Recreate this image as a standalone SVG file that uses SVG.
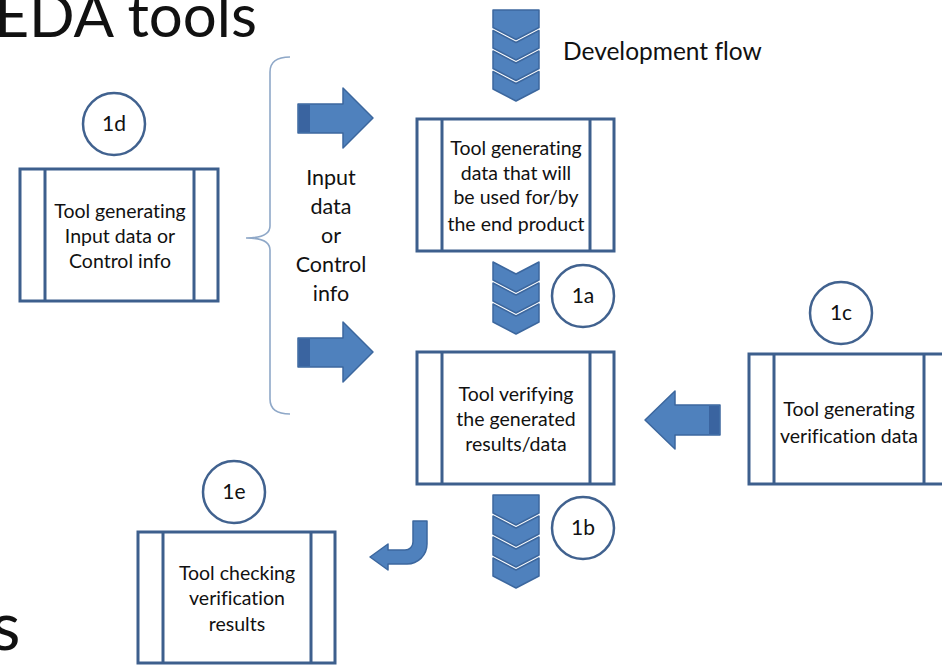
<svg xmlns="http://www.w3.org/2000/svg" width="942" height="665" viewBox="0 0 942 665">
  <style>
    .box { fill: #ffffff; stroke: #3d5f8d; stroke-width: 3; }
    .bar { stroke: #3d5f8d; stroke-width: 3; }
    .tag { fill: #ffffff; stroke: #41628f; stroke-width: 2.5; }
    .blue { fill: #4f81bd; stroke: #3c679e; stroke-width: 1.5; stroke-linejoin: round; }
    .shade { fill: #3a64a0; }
    .brace { fill: none; stroke: #8fa8c8; stroke-width: 1.6; }
    text { font-family: Lato, "Liberation Sans", sans-serif; fill: #111111; font-variant-ligatures: none; font-feature-settings: "liga" 0, "clig" 0; }
    .lbl { font-size: 19.5px; text-anchor: middle; }
    .num { font-size: 21px; text-anchor: middle; }
    .side { font-size: 21.5px; text-anchor: middle; }
  </style>

  <!-- slide title fragments -->
  <text x="257" y="37" font-size="60" text-anchor="end">EDA tools</text>
  <text x="-9" y="650" font-size="68">s</text>

  <!-- flow legend -->
  <g id="legend">
    <path class="blue" d="M493,10 H539 V27.5 L516,39.5 L493,27.5 Z"/>
    <path class="blue" d="M493,30.5 L516,42.5 L539,30.5 V48 L516,60 L493,48 Z"/>
    <path class="blue" d="M493,51 L516,63 L539,51 V68.5 L516,80.5 L493,68.5 Z"/>
    <path class="blue" d="M493,71.5 L516,83.5 L539,71.5 V89 L516,101 L493,89 Z"/>
    <text x="563" y="60" font-size="24.5">Development flow</text>
  </g>

  <!-- 1d: input / control info generator -->
  <g id="node-1d">
    <circle class="tag" cx="114" cy="124" r="31"/>
    <text class="num" x="114" y="131">1d</text>
    <rect class="box" x="20" y="169" width="198" height="132"/>
    <line class="bar" x1="45" y1="169" x2="45" y2="301"/>
    <line class="bar" x1="194" y1="169" x2="194" y2="301"/>
    <text class="lbl" x="120" y="218">Tool generating</text>
    <text class="lbl" x="120" y="243">Input data or</text>
    <text class="lbl" x="120" y="268">Control info</text>
  </g>

  <!-- main product generator -->
  <g id="node-generate">
    <rect class="box" x="417" y="119" width="197" height="132"/>
    <line class="bar" x1="442" y1="119" x2="442" y2="251"/>
    <line class="bar" x1="590" y1="119" x2="590" y2="251"/>
    <text class="lbl" x="516" y="155">Tool generating</text>
    <text class="lbl" x="516" y="180">data that will</text>
    <text class="lbl" x="516" y="204">be used for/by</text>
    <text class="lbl" x="516" y="231">the end product</text>
  </g>

  <!-- 1a label -->
  <g id="tag-1a">
    <circle class="tag" cx="583" cy="296" r="31"/>
    <text class="num" x="583" y="303">1a</text>
  </g>

  <!-- verification tool -->
  <g id="node-verify">
    <rect class="box" x="417" y="352" width="197" height="132"/>
    <line class="bar" x1="442" y1="352" x2="442" y2="484"/>
    <line class="bar" x1="590" y1="352" x2="590" y2="484"/>
    <text class="lbl" x="516" y="401">Tool verifying</text>
    <text class="lbl" x="516" y="426">the generated</text>
    <text class="lbl" x="516" y="451">results/data</text>
  </g>

  <!-- 1b label -->
  <g id="tag-1b">
    <circle class="tag" cx="583" cy="528" r="31"/>
    <text class="num" x="583" y="535">1b</text>
  </g>

  <!-- 1c: verification data generator -->
  <g id="node-1c">
    <circle class="tag" cx="841" cy="313" r="31"/>
    <text class="num" x="841" y="320">1c</text>
    <rect class="box" x="749" y="354" width="198" height="130"/>
    <line class="bar" x1="774" y1="354" x2="774" y2="484"/>
    <line class="bar" x1="924" y1="354" x2="924" y2="484"/>
    <text class="lbl" x="849" y="416">Tool generating</text>
    <text class="lbl" x="849" y="443">verification data</text>
  </g>

  <!-- 1e: result checker -->
  <g id="node-1e">
    <circle class="tag" cx="234" cy="492" r="31"/>
    <text class="num" x="234" y="499">1e</text>
    <rect class="box" x="138" y="532" width="197" height="131"/>
    <line class="bar" x1="163" y1="532" x2="163" y2="663"/>
    <line class="bar" x1="311" y1="532" x2="311" y2="663"/>
    <text class="lbl" x="237" y="580">Tool checking</text>
    <text class="lbl" x="237" y="605">verification</text>
    <text class="lbl" x="237" y="631">results</text>
  </g>

  <!-- input data / control info annotation -->
  <g id="input-info">
    <path class="brace" d="M290,57 Q270,57 270,72 V226 Q270,238 246,238 Q270,238 270,250 V399 Q270,414 290,414"/>
    <text class="side" x="331" y="185">Input</text>
    <text class="side" x="331" y="214">data</text>
    <text class="side" x="331" y="243">or</text>
    <text class="side" x="331" y="272">Control</text>
    <text class="side" x="331" y="301">info</text>
  </g>

  <!-- connectors -->
  <g id="connectors">
    <!-- into the generator -->
    <polygon class="blue" points="298,104 343,104 343,88 373,118 343,148 343,133 298,133"/>
    <rect class="shade" x="299" y="105" width="11" height="27"/>
    <!-- into the verifier -->
    <polygon class="blue" points="298,338 343,338 343,322 373,352 343,382 343,367 298,367"/>
    <rect class="shade" x="299" y="339" width="11" height="27"/>
    <!-- verification data into the verifier -->
    <polygon class="blue" points="720,405 675,405 675,391 645,420 675,449 675,435 720,435"/>
    <rect class="shade" x="709" y="406" width="10" height="28"/>
    <!-- 1a: generator to verifier -->
    <path class="blue" d="M493,262 L516,274 L539,262 V280 L516,292 L493,280 Z"/>
    <path class="blue" d="M493,283 L516,295 L539,283 V301 L516,313 L493,301 Z"/>
    <path class="blue" d="M493,304 L516,316 L539,304 V322 L516,334 L493,322 Z"/>
    <!-- 1b: verifier onwards -->
    <path class="blue" d="M493,495 H539 V513 L516,525 L493,513 Z"/>
    <path class="blue" d="M493,516 L516,528 L539,516 V534 L516,546 L493,534 Z"/>
    <path class="blue" d="M493,537 L516,549 L539,537 V555 L516,567 L493,555 Z"/>
    <path class="blue" d="M493,558 L516,570 L539,558 V576 L516,588 L493,576 Z"/>
    <!-- results to the checker -->
    <path class="blue" d="M413,521 H427 V544 A20,20 0 0 1 407,564 H388 V570 L370,557 L388,544 V550 H405 A8,8 0 0 0 413,542 Z"/>
  </g>
</svg>
